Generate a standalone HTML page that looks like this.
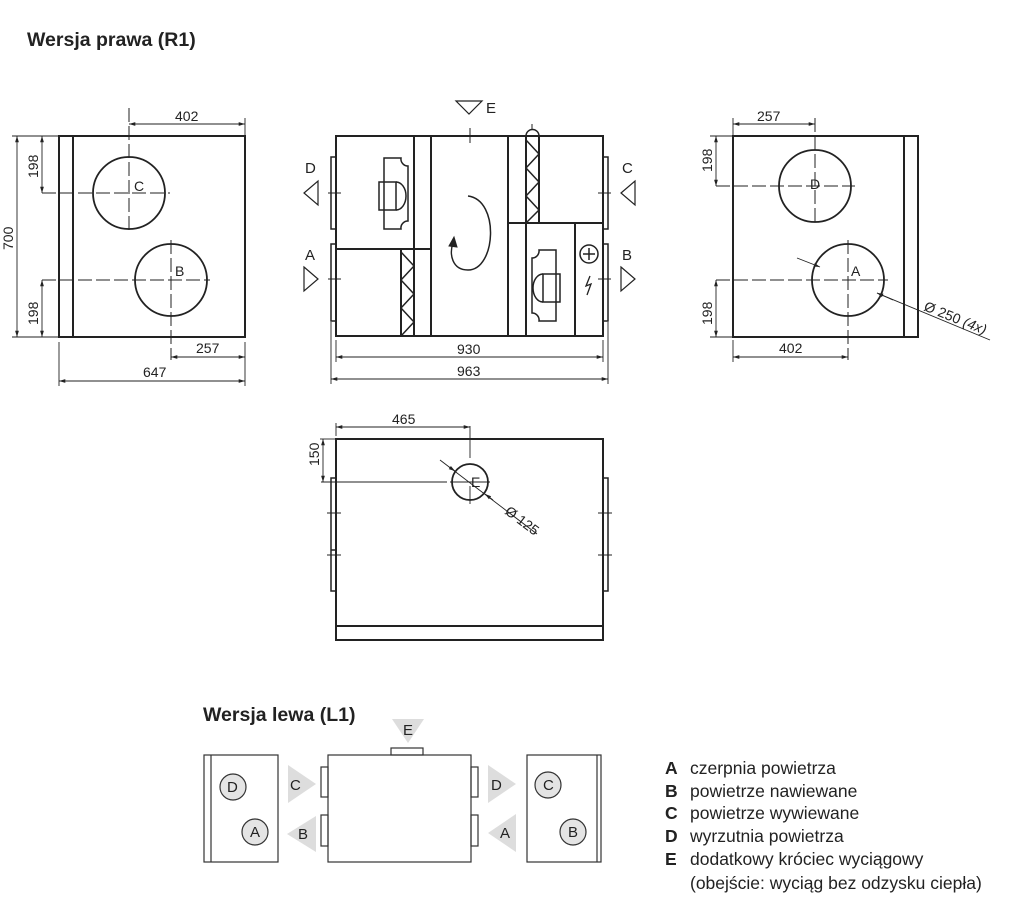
<!DOCTYPE html>
<html><head><meta charset="utf-8"><style>
html,body{margin:0;padding:0;background:#fff}
svg{display:block}
text{font-family:"Liberation Sans",sans-serif;fill:#222}
</style></head><body>
<svg width="1024" height="908" viewBox="0 0 1024 908" xmlns="http://www.w3.org/2000/svg">
<defs>
<marker id="ar" viewBox="0 0 10 10" refX="10" refY="5" markerWidth="7" markerHeight="7" orient="auto-start-reverse"><path d="M0,2 L10,5 L0,8 z" fill="#222"/></marker>
</defs>
<text x="27" y="46" font-size="19.5" font-weight="bold">Wersja prawa (R1)</text>

<!-- LEFT VIEW -->
<g stroke="#222" fill="none">
<rect x="59" y="136" width="186" height="201" stroke-width="2"/>
<line x1="73" y1="136" x2="73" y2="337" stroke-width="2"/>
<circle cx="129" cy="193" r="36" stroke-width="1.8"/>
<circle cx="171" cy="280" r="36" stroke-width="1.8"/>
<g stroke-width="1" stroke-dasharray="14,4">
<line x1="42" y1="193" x2="170" y2="193"/><line x1="129" y1="108" x2="129" y2="232"/>
<line x1="42" y1="280" x2="210" y2="280"/><line x1="171" y1="240" x2="171" y2="360"/>
</g>
<g stroke-width="0.9">
<line x1="129" y1="124" x2="245" y2="124" marker-start="url(#ar)" marker-end="url(#ar)"/>
<line x1="245" y1="118" x2="245" y2="136"/>
<line x1="17" y1="136" x2="17" y2="337" marker-start="url(#ar)" marker-end="url(#ar)"/>
<line x1="12" y1="136" x2="59" y2="136"/><line x1="12" y1="337" x2="59" y2="337"/>
<line x1="42" y1="136" x2="42" y2="193" marker-start="url(#ar)" marker-end="url(#ar)"/>
<line x1="42" y1="280" x2="42" y2="337" marker-start="url(#ar)" marker-end="url(#ar)"/>
<line x1="171" y1="357" x2="245" y2="357" marker-start="url(#ar)" marker-end="url(#ar)"/>
<line x1="59" y1="381" x2="245" y2="381" marker-start="url(#ar)" marker-end="url(#ar)"/>
<line x1="59" y1="342" x2="59" y2="386"/><line x1="245" y1="342" x2="245" y2="386"/>
</g>
</g>
<text x="175" y="121" font-size="14">402</text>
<text x="196" y="353" font-size="14">257</text>
<text x="143" y="377" font-size="14">647</text>
<text x="134" y="191" font-size="14">C</text>
<text x="175" y="276" font-size="14">B</text>
<text transform="translate(13,250) rotate(-90)" font-size="14">700</text>
<text transform="translate(38,178) rotate(-90)" font-size="14">198</text>
<text transform="translate(38,325) rotate(-90)" font-size="14">198</text>

<!-- MIDDLE VIEW -->
<g stroke="#222" fill="none" stroke-width="2">
<rect x="336" y="136" width="267" height="200"/>
<rect x="331" y="157" width="5" height="72" stroke-width="1.5"/>
<rect x="331" y="244" width="5" height="77" stroke-width="1.5"/>
<rect x="603" y="157" width="5" height="72" stroke-width="1.5"/>
<rect x="603" y="244" width="5" height="77" stroke-width="1.5"/>
<line x1="414" y1="136" x2="414" y2="336"/>
<line x1="431" y1="136" x2="431" y2="336"/>
<line x1="508" y1="136" x2="508" y2="336"/>
<line x1="526" y1="223" x2="526" y2="336"/>
<line x1="575" y1="223" x2="575" y2="336"/>
<line x1="336" y1="249" x2="431" y2="249"/>
<line x1="508" y1="223" x2="603" y2="223"/>
<rect x="401" y="249" width="13" height="87"/>
<polyline points="401,252 414,266 401,280 414,294 401,308 414,322 401,336" stroke-width="1.5"/>
<rect x="526" y="136" width="13" height="87"/>
<path d="M526,136 A6.5,6.5 0 0 1 539,136" stroke-width="1.5"/>
<line x1="532" y1="124" x2="532" y2="130" stroke-width="1"/>
<polyline points="526,140 539,154 526,168 539,182 526,196 539,210 526,223" stroke-width="1.5"/>
<!-- fans -->
<path d="M384,158 h17 a7,7 0 0 0 7,8 v55 a7,7 0 0 0 -7,8 h-17 z" stroke-width="1.5"/>
<rect x="379" y="182" width="17" height="28" stroke-width="1.5"/>
<path d="M396,182 a10,14 0 0 1 0,28" stroke-width="1.5"/>
<path d="M556,250 h-17 a7,7 0 0 1 -7,8 v55 a7,7 0 0 1 7,8 h17 z" stroke-width="1.5"/>
<rect x="543" y="274" width="17" height="28" stroke-width="1.5"/>
<path d="M543,274 a10,14 0 0 0 0,28" stroke-width="1.5"/>
<circle cx="589" cy="254" r="9" stroke-width="1.5"/>
<line x1="583" y1="254" x2="595" y2="254" stroke-width="1.5"/><line x1="589" y1="248" x2="589" y2="260" stroke-width="1.5"/>
<path d="M590,276 l-4,10 l5,-2 l-4,11" stroke-width="1.3"/>
<path d="M468,196 C 500,200 496,270 468,270 C 452,270 449,254 453,243" stroke-width="1.5"/>
<path d="M449,246 l5,-9 l3,10 z" fill="#222" stroke-width="1"/>
<g stroke-width="1"><line x1="470" y1="128" x2="470" y2="143"/>
<line x1="328" y1="193" x2="341" y2="193"/><line x1="328" y1="279" x2="341" y2="279"/>
<line x1="598" y1="193" x2="611" y2="193"/><line x1="598" y1="279" x2="611" y2="279"/></g>
<g stroke-width="1.2">
<polygon points="456,101 482,101 469,114"/>
<polygon points="304,193 318,181 318,205"/><polygon points="304,267 318,279 304,291"/>
<polygon points="621,193 635,181 635,205"/><polygon points="621,267 635,279 621,291"/>
</g>
<g stroke-width="0.9">
<line x1="336" y1="357" x2="603" y2="357" marker-start="url(#ar)" marker-end="url(#ar)"/>
<line x1="331" y1="379" x2="608" y2="379" marker-start="url(#ar)" marker-end="url(#ar)"/>
<line x1="336" y1="340" x2="336" y2="362"/><line x1="603" y1="340" x2="603" y2="362"/>
<line x1="331" y1="322" x2="331" y2="384"/><line x1="608" y1="322" x2="608" y2="384"/>
</g>
</g>
<text x="486" y="113" font-size="15">E</text>
<text x="305" y="173" font-size="15">D</text>
<text x="305" y="260" font-size="15">A</text>
<text x="622" y="173" font-size="15">C</text>
<text x="622" y="260" font-size="15">B</text>
<text x="457" y="354" font-size="14">930</text>
<text x="457" y="376" font-size="14">963</text>

<!-- RIGHT VIEW -->
<g stroke="#222" fill="none">
<rect x="733" y="136" width="185" height="201" stroke-width="2"/>
<line x1="904" y1="136" x2="904" y2="337" stroke-width="2"/>
<circle cx="815" cy="186" r="36" stroke-width="1.8"/>
<circle cx="848" cy="280" r="36" stroke-width="1.8"/>
<g stroke-width="1" stroke-dasharray="14,4">
<line x1="716" y1="186" x2="855" y2="186"/><line x1="815" y1="118" x2="815" y2="225"/>
<line x1="716" y1="280" x2="888" y2="280"/><line x1="848" y1="240" x2="848" y2="360"/>
</g>
<g stroke-width="0.9">
<line x1="733" y1="124" x2="815" y2="124" marker-start="url(#ar)" marker-end="url(#ar)"/>
<line x1="733" y1="118" x2="733" y2="136"/>
<line x1="716" y1="136" x2="716" y2="186" marker-start="url(#ar)" marker-end="url(#ar)"/>
<line x1="710" y1="136" x2="733" y2="136"/>
<line x1="716" y1="280" x2="716" y2="337" marker-start="url(#ar)" marker-end="url(#ar)"/>
<line x1="710" y1="337" x2="733" y2="337"/>
<line x1="733" y1="357" x2="848" y2="357" marker-start="url(#ar)" marker-end="url(#ar)"/>
<line x1="733" y1="340" x2="733" y2="362"/>
<line x1="797" y1="258" x2="820" y2="267" marker-end="url(#ar)"/>
<line x1="877" y1="293" x2="990" y2="340"/>
<line x1="893" y1="300" x2="877" y2="293" marker-end="url(#ar)"/>
</g>
</g>
<text x="757" y="121" font-size="14">257</text>
<text x="779" y="353" font-size="14">402</text>
<text x="810" y="189" font-size="14">D</text>
<text x="851" y="276" font-size="14">A</text>
<text transform="translate(712,172) rotate(-90)" font-size="14">198</text>
<text transform="translate(712,325) rotate(-90)" font-size="14">198</text>
<text transform="translate(923,310) rotate(22)" font-size="14">Ø 250 <tspan font-style="italic">(4x)</tspan></text>

<!-- BOTTOM VIEW -->
<g stroke="#222" fill="none">
<rect x="336" y="439" width="267" height="201" stroke-width="2"/>
<line x1="336" y1="626" x2="603" y2="626" stroke-width="2"/>
<rect x="331" y="478" width="5" height="113" stroke-width="1.5"/>
<line x1="331" y1="550" x2="336" y2="550" stroke-width="1.5"/>
<rect x="603" y="478" width="5" height="113" stroke-width="1.5"/>
<g stroke-width="1"><line x1="327" y1="513" x2="341" y2="513"/><line x1="327" y1="555" x2="341" y2="555"/>
<line x1="598" y1="513" x2="612" y2="513"/><line x1="598" y1="555" x2="612" y2="555"/></g>
<circle cx="470" cy="482" r="18" stroke-width="1.8"/>
<g stroke-width="0.9">
<line x1="321" y1="482" x2="447" y2="482"/><line x1="470" y1="426" x2="470" y2="458"/>
<line x1="470" y1="486" x2="470" y2="504"/><line x1="450" y1="482" x2="490" y2="482"/>
<line x1="336" y1="427" x2="470" y2="427" marker-start="url(#ar)" marker-end="url(#ar)"/>
<line x1="336" y1="423" x2="336" y2="436"/>
<line x1="323" y1="439" x2="323" y2="482" marker-start="url(#ar)" marker-end="url(#ar)"/>
<line x1="320" y1="439" x2="336" y2="439"/>
<line x1="440" y1="460" x2="537" y2="534"/>
<line x1="449" y1="467" x2="455" y2="471" marker-end="url(#ar)"/>
<line x1="493" y1="500" x2="485" y2="494" marker-end="url(#ar)"/>
</g>
</g>
<text x="392" y="424" font-size="14">465</text>
<text x="471" y="487" font-size="14">E</text>
<text transform="translate(319,466) rotate(-90)" font-size="14">150</text>
<text transform="translate(504,513) rotate(37)" font-size="14">Ø 125</text>

<!-- LEFT VERSION -->
<text x="203" y="721" font-size="19.5" font-weight="bold">Wersja lewa (L1)</text>
<g fill="#ddd" stroke="none">
<polygon points="392,719 424,719 408,743"/>
<polygon points="288,765 316,784 288,803"/>
<polygon points="316,816 287,834 316,852"/>
<polygon points="488,765 516,784 488,803"/>
<polygon points="516,814 488,833 516,852"/>
</g>
<g stroke="#333" fill="none" stroke-width="1.2">
<rect x="204" y="755" width="74" height="107"/>
<line x1="211" y1="755" x2="211" y2="862"/>
<rect x="328" y="755" width="143" height="107"/>
<rect x="391" y="748" width="32" height="7"/>
<rect x="321" y="767" width="7" height="30"/><rect x="321" y="815" width="7" height="31"/>
<rect x="471" y="767" width="7" height="30"/><rect x="471" y="815" width="7" height="31"/>
<rect x="527" y="755" width="74" height="107"/>
<line x1="597" y1="755" x2="597" y2="862"/>
<circle cx="233" cy="787" r="13" fill="#e4e4e4"/>
<circle cx="255" cy="832" r="13" fill="#e4e4e4"/>
<circle cx="548" cy="785" r="13" fill="#e4e4e4"/>
<circle cx="573" cy="832" r="13" fill="#e4e4e4"/>
</g>
<g font-size="15" fill="#444">
<text x="403" y="735">E</text>
<text x="290" y="790">C</text><text x="298" y="839">B</text>
<text x="491" y="790">D</text><text x="500" y="838">A</text>
<text x="227" y="792">D</text><text x="250" y="837">A</text>
<text x="543" y="790">C</text><text x="568" y="837">B</text>
</g>

<!-- LEGEND -->
<g font-size="17.5">
<text x="665" y="774" font-weight="bold">A</text><text x="690" y="774">czerpnia powietrza</text>
<text x="665" y="797" font-weight="bold">B</text><text x="690" y="797">powietrze nawiewane</text>
<text x="665" y="819" font-weight="bold">C</text><text x="690" y="819">powietrze wywiewane</text>
<text x="665" y="842" font-weight="bold">D</text><text x="690" y="842">wyrzutnia powietrza</text>
<text x="665" y="865" font-weight="bold">E</text><text x="690" y="865">dodatkowy króciec wyciągowy</text>
<text x="690" y="889">(obejście: wyciąg bez odzysku ciepła)</text>
</g>
</svg>
</body></html>
